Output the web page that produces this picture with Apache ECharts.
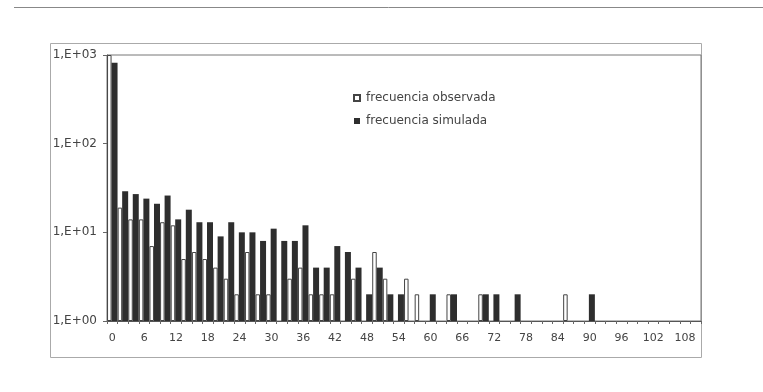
<!DOCTYPE html>
<html>
<head>
<meta charset="utf-8">
<script src="https://cdn.jsdelivr.net/npm/echarts@6/dist/echarts.min.js"></script>
<style>
html,body{margin:0;padding:0;background:#fff;}
#c{width:763px;height:392px;}
</style>
</head>
<body>
<div id="c"></div>
<script>
// categories (bin values)
const categories = [0,2,4,6,8,10,12,14,16,18,20,22,24,26,28,30,32,34,36,38,40,42,44,46,48,50,52,54,56,58,60,62,64,66,68,70,72,74,76,78,80,82,84,86,88,90,92,94,96,98,100,102,104,106,108,110];
// frecuencia observada
const observada = [1000,19,14,14,7,13,12,5,6,5,4,3,2,6,2,2,null,3,4,2,2,2,null,3,null,6,3,null,3,2,null,null,2,null,null,2,null,null,null,null,null,null,null,2,null,null,null,null,null,null,null,null,null,null,null,null];
// frecuencia simulada
const simulada = [820,29,27,24,21,26,14,18,13,13,9,13,10,10,8,11,8,8,12,4,4,7,6,4,2,4,2,2,null,null,2,null,2,null,null,2,2,null,2,null,null,null,null,null,null,2,null,null,null,null,null,null,null,null,null,null];
// y tick labels (decades 0..3)
const yTickLabels = ['1,E+00','1,E+01','1,E+02','1,E+03'];

const FONT = 'DejaVu Sans';
const chart = echarts.init(document.getElementById('c'), null, {renderer:'canvas'});
chart.setOption({
  animation: false,
  backgroundColor: '#fff',
  grid: {left:107, right:62, top:55, bottom:71, containLabel:false, show:true, borderColor:'#777', borderWidth:1, backgroundColor:'transparent'},
  legend: {
    orient:'vertical', left:348, top:87, itemWidth:6, itemHeight:6, itemGap:11,
    icon:'rect',
    textStyle:{fontFamily:FONT, fontSize:12, color:'#444', padding:[0,0,0,1]},
    data:['frecuencia observada','frecuencia simulada']
  },
  xAxis: {
    type:'category', data: categories,
    axisLine:{lineStyle:{color:'#555', width:1}},
    axisTick:{show:true, interval:0, length:3, lineStyle:{color:'#666'}},
    axisLabel:{interval:2, margin:12, fontFamily:FONT, fontSize:11, color:'#444'}
  },
  yAxis: {
    type:'log', logBase:10, min:1, max:1000,
    axisLine:{show:true, lineStyle:{color:'#555', width:1}},
    axisTick:{show:true, length:4, lineStyle:{color:'#666'}},
    splitLine:{show:false},
    minorTick:{show:false},
    axisLabel:{margin:10, fontFamily:FONT, fontSize:12, color:'#444',
      formatter: v => yTickLabels[Math.round(Math.log10(v))]}
  },
  graphic: [
    {type:'line', shape:{x1:14, y1:7.5, x2:763, y2:7.5}, style:{stroke:'#888', lineWidth:1}, silent:true},
    {type:'rect', shape:{x:50.5, y:43.5, width:651, height:314}, style:{fill:'none', stroke:'#aaa', lineWidth:1}, silent:true, z:-1}
  ],
  series: [
    {name:'frecuencia observada', type:'bar', data: observada, barGap:'0%', barWidth:4.5,
     itemStyle:{color:'#fff', borderColor:'#444', borderWidth:1}},
    {name:'frecuencia simulada', type:'bar', data: simulada, barGap:'0%', barWidth:6,
     itemStyle:{color:'#2e2e2e', borderColor:'#2e2e2e', borderWidth:0}}
  ]
});
</script>
</body>
</html>
